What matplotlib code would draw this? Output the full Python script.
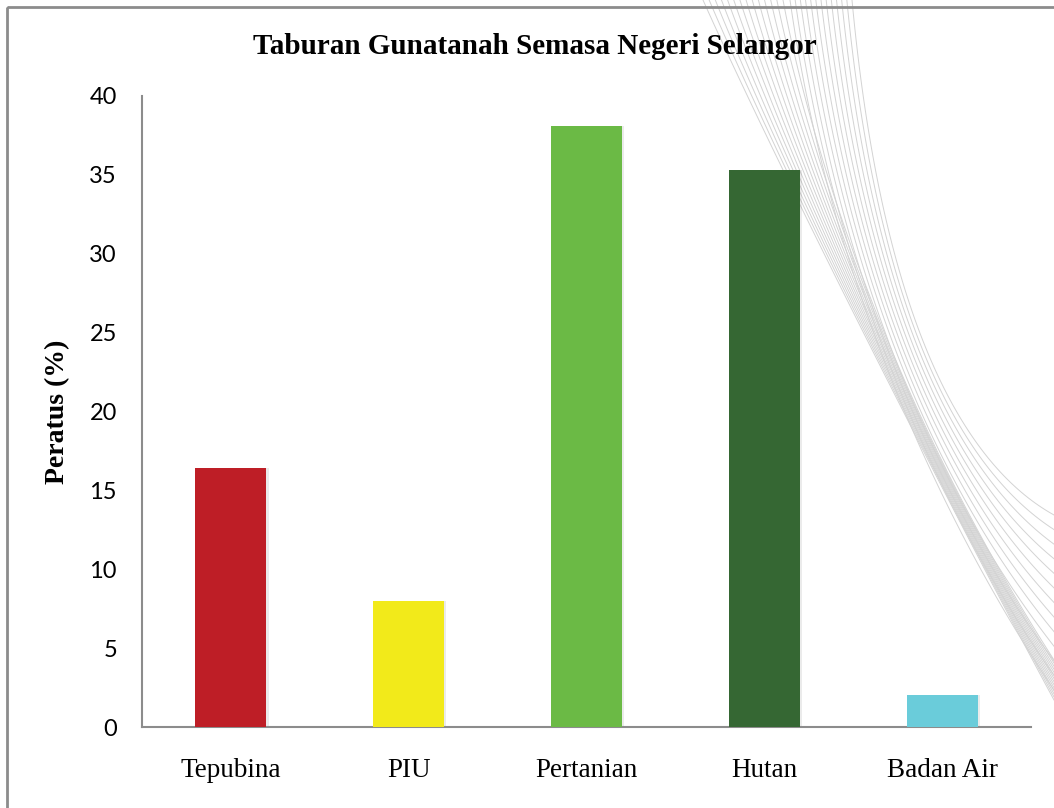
import numpy as np
import matplotlib
matplotlib.use("Agg")
import matplotlib.pyplot as plt
from matplotlib.patches import Rectangle

# ---- data ----
categories = ["Tepubina", "PIU", "Pertanian", "Hutan", "Badan Air"]
values = [16.4, 8.0, 38.1, 35.3, 2.0]
colors = ["#BE1E26", "#F2EA1A", "#6BBA45", "#356733", "#6ACCDA"]
yticks = [0, 5, 10, 15, 20, 25, 30, 35, 40]
title = "Taburan Gunatanah Semasa Negeri Selangor"
ylabel = "Peratus (%)"

W, H = 1054, 808
fig = plt.figure(figsize=(W / 100, H / 100), dpi=100)
fig.patch.set_facecolor("white")

# ---- decorative background swirl (pixel space, not data) ----
def cubic(p0, p1, p2, p3, n=80):
    t = np.linspace(0, 1, n)[:, None]
    p0, p1, p2, p3 = map(np.array, (p0, p1, p2, p3))
    return ((1 - t) ** 3 * p0 + 3 * (1 - t) ** 2 * t * p1
            + 3 * (1 - t) * t ** 2 * p2 + t ** 3 * p3)

def lerp(a, b, t):
    return tuple(np.array(a) * (1 - t) + np.array(b) * t)

deco_ax = fig.add_axes([0, 0, 1, 1], zorder=0)
deco_ax.set_xlim(0, W)
deco_ax.set_ylim(H, 0)
deco_ax.axis("off")
grpA = [((703, 0), (770, 150), (930, 470), (1054, 700)),
        ((783, 0), (815, 170), (900, 420), (1054, 660))]
grpB = [((790, 0), (830, 280), (940, 520), (1054, 690)),
        ((852, 0), (880, 300), (955, 460), (1054, 515))]
for grp, n in ((grpA, 14), (grpB, 13)):
    for i in range(n):
        t = i / (n - 1)
        pts = [lerp(a, b, t) for a, b in zip(grp[0], grp[1])]
        c = cubic(*pts)
        deco_ax.plot(c[:, 0], c[:, 1], color="#d3d3d3", lw=0.7)

border_ax = fig.add_axes([0, 0, 1, 1], zorder=0.5)
border_ax.set_xlim(0, W)
border_ax.set_ylim(H, 0)
border_ax.axis("off")
border_ax.patch.set_alpha(0)
border_ax.add_patch(Rectangle((7, 7), W + 20, H + 20, fill=False, ec="#8c8c8c", lw=2))

# ---- main axes ----
left, right, top, bottom = 142, 1031, 96, 727
ax = fig.add_axes([left / W, 1 - bottom / H, (right - left) / W, (bottom - top) / H], zorder=1)
ax.patch.set_alpha(0)

x = np.arange(len(categories))
# soft shadow
ax.bar(x + 0.012, values, width=0.4, color="#000000", alpha=0.08, zorder=2)
ax.bar(x, values, width=0.4, color=colors, zorder=3)

ax.set_xlim(-0.5, len(categories) - 0.5)
ax.set_ylim(0, 40)
ax.set_yticks(yticks)
ax.set_yticklabels([str(v) for v in yticks], fontfamily="Lato", fontsize=17)
ax.set_xticks(x)
ax.set_xticklabels(categories, fontfamily="Liberation Serif", fontsize=19.5)
ax.tick_params(axis="both", length=0)
ax.tick_params(axis="y", pad=18)
ax.tick_params(axis="x", pad=22)

for s in ["top", "right"]:
    ax.spines[s].set_visible(False)
for s in ["left", "bottom"]:
    ax.spines[s].set_color("#8c8c8c")
    ax.spines[s].set_linewidth(1.5)

fig.text(535 / W, 1 - 47 / H, title, ha="center", va="center",
         fontfamily="Liberation Serif", fontweight="bold", fontsize=21, zorder=2)
fig.text(58 / W, 1 - 412 / H, ylabel, ha="center", va="center", rotation=90,
         fontfamily="Liberation Serif", fontweight="bold", fontsize=20, zorder=2)

fig.savefig("out.png", dpi=100, facecolor="white")
